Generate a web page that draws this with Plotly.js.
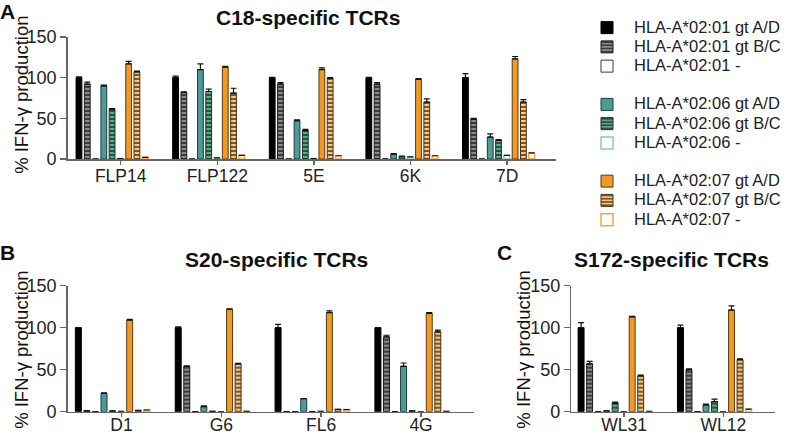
<!DOCTYPE html>
<html><head><meta charset="utf-8">
<script src="https://cdn.plot.ly/plotly-3.0.1.min.js"></script>
<style>html,body{margin:0;padding:0;background:#fff}#chart{width:786px;height:435px}</style>
</head><body><div id="chart"></div>
<script>
// ---------- DATA ----------
const catsA = ['FLP14','FLP122','5E','6K','7D'];
const catsB = ['D1','G6','FL6','4G'];
const catsC = ['WL31','WL12'];

const seriesNames = [
  'HLA-A*02:01 gt A/D','HLA-A*02:01 gt B/C','HLA-A*02:01 -',
  'HLA-A*02:06 gt A/D','HLA-A*02:06 gt B/C','HLA-A*02:06 -',
  'HLA-A*02:07 gt A/D','HLA-A*02:07 gt B/C','HLA-A*02:07 -'
];

// Panel A values (per series, per category)
const a0201AD_A  = [100, 100, 100, 100, 100];
const a0201BC_A  = [92, 82, 92, 92, 49];
const a0201neg_A = [0, 0, 0, 0, 0];
const a0206AD_A  = [90, 110, 47, 6, 27];
const a0206BC_A  = [61, 83, 35, 3, 23];
const a0206neg_A = [0.5, 1.5, 0.5, 2.5, 4.5];
const a0207AD_A  = [117, 113, 110, 98, 123];
const a0207BC_A  = [107, 81, 99, 70, 70];
const a0207neg_A = [2, 4.5, 4, 4, 7.5];
const errA = [
  [1, 2, 0.5, 0.5, 5],
  [2.5, 0.5, 2, 2, 1],
  [0, 0, 0, 0, 0],
  [1, 7, 1, 0.5, 4],
  [1, 3, 1.5, 0.5, 1],
  [0, 0, 0, 0, 0],
  [3, 1, 2, 1, 3],
  [1, 6, 1, 4, 3],
  [0, 0, 0, 0, 0]
];

// Panel B values
const a0201AD_B  = [100, 100, 100, 100];
const a0201BC_B  = [1, 54, 0, 89];
const a0201neg_B = [0, 0, 0, 0];
const a0206AD_B  = [22, 6, 15.5, 54];
const a0206BC_B  = [1, 0.5, 0, 1];
const a0206neg_B = [0.3, 0, 0.5, 0];
const a0207AD_B  = [109, 122, 118, 117];
const a0207BC_B  = [1.5, 57, 2.8, 95];
const a0207neg_B = [2, 0.5, 2.5, 0.5];
const errB = [
  [0, 1, 4, 0],
  [0.3, 0.5, 0, 2],
  [0, 0, 0, 0],
  [0.5, 1, 0, 4],
  [0, 0, 0, 0],
  [0, 0, 0, 0],
  [1, 0.5, 2, 1],
  [0, 0.5, 0, 2],
  [0, 0, 0, 0]
];

// Panel C values
const a0201AD_C  = [100, 100];
const a0201BC_C  = [57, 50];
const a0201neg_C = [0, 0];
const a0206AD_C  = [1, 8];
const a0206BC_C  = [10, 12];
const a0206neg_C = [0, 0];
const a0207AD_C  = [113, 121];
const a0207BC_C  = [42.5, 62];
const a0207neg_C = [0.3, 3];
const errC = [
  [6, 3],
  [3, 1],
  [0, 0],
  [0, 1],
  [1.5, 3],
  [0, 0],
  [0.5, 5],
  [1, 1],
  [0, 0]
];

const valsA = [a0201AD_A,a0201BC_A,a0201neg_A,a0206AD_A,a0206BC_A,a0206neg_A,a0207AD_A,a0207BC_A,a0207neg_A];
const valsB = [a0201AD_B,a0201BC_B,a0201neg_B,a0206AD_B,a0206BC_B,a0206neg_B,a0207AD_B,a0207BC_B,a0207neg_B];
const valsC = [a0201AD_C,a0201BC_C,a0201neg_C,a0206AD_C,a0206BC_C,a0206neg_C,a0207AD_C,a0207BC_C,a0207neg_C];

// ---------- STYLES ----------
const styles = [
  {color:'#000000', line:'#000000', lw:1},
  {color:'#8a8a8a', line:'#1a1a1a', lw:1, pat:{shape:'-', fgcolor:'#262626', bgcolor:'#8a8a8a', size:4, solidity:0.4}},
  {color:'#ffffff', line:'#3a3a3a', lw:1},
  {color:'#4d9b98', line:'#1e3c3a', lw:1},
  {color:'#58a685', line:'#1a3428', lw:1, pat:{shape:'-', fgcolor:'#1c3a2c', bgcolor:'#5aaa88', size:4, solidity:0.4}},
  {color:'#ffffff', line:'#8ec7bf', lw:1.5},
  {color:'#f09a26', line:'#5a3a10', lw:1},
  {color:'#f5c684', line:'#4a3010', lw:1, pat:{shape:'-', fgcolor:'#5a3c14', bgcolor:'#f5c684', size:4, solidity:0.4}},
  {color:'#ffffff', line:'#f0a548', lw:1.5}
];

const pitch = 0.0857, bw = 0.06, firstCenter = -0.432;
const groups = ['g1','g1','g1','g2','g2','g2','g3','g3','g3'];

const traces = [];
function addPanel(cats, vals, errs, xa, ya, showLegend){
  for (let i = 0; i < 9; i++){
    const s = styles[i];
    const marker = {color: s.color, line:{color: s.line, width: s.lw}};
    if (s.pat) marker.pattern = Object.assign({fillmode:'replace'}, s.pat);
    traces.push({
      type:'bar', x: cats, y: vals[i], xaxis: xa, yaxis: ya,
      name: '<span style="font-size:16.5px">' + seriesNames[i] + '</span>',
      legendgroup: groups[i], showlegend: showLegend,
      offset: firstCenter + i*pitch - bw/2, width: bw,
      marker: marker,
      error_y: {type:'data', array: errs[i], arrayminus: errs[i].map(()=>0), symmetric:false,
                color:'#111', thickness:1.2, width:3, visible:true},
      hoverinfo:'skip'
    });
  }
}
addPanel(catsA, valsA, errA, 'x', 'y', true);
addPanel(catsB, valsB, errB, 'x2', 'y2', false);
addPanel(catsC, valsC, errC, 'x3', 'y3', false);

const W = 786, H = 435;
const font = 'Arial, "Liberation Sans", sans-serif';
function xax(dom, range, standoff){
  return {domain: dom, range: range, type:'category', showgrid:false, zeroline:false,
    showline:true, linecolor:'#666', linewidth:1.5, ticks:'outside', ticklen:4, tickcolor:'#666', tickwidth:1.5,
    ticklabelstandoff: standoff,
    tickfont:{size:17.5, color:'#222', family:font}, fixedrange:true};
}
function yax(dom){
  return {domain: dom, range:[0,150], tickvals:[0,50,100,150], showgrid:false, zeroline:false,
    showline:true, linecolor:'#666', linewidth:1.5, ticks:'outside', ticklen:6, tickcolor:'#666', tickwidth:1.5,
    tickfont:{size:18, color:'#222', family:font}, fixedrange:true};
}

const yDomA = [(H-159)/H, (H-37)/H];
const yDomB = [(H-411.7)/H, (H-285.7)/H];

function ann(text, px, py, size, angle){
  return {text: text, x: px/W, y: 1-py/H, xref:'paper', yref:'paper', xanchor:'center', yanchor:'middle',
          showarrow:false, textangle: angle || 0, font:{size:size, family:font, color:'#111'}};
}

const layout = {
  width: W, height: H, margin:{l:0,r:0,t:0,b:0},
  paper_bgcolor:'#fff', plot_bgcolor:'rgba(0,0,0,0)',
  barmode:'overlay', showlegend:true,
  font:{family:font, color:'#222'},
  xaxis: xax([68/W, 560/W], [-0.55, 4.51], -4),
  yaxis: yax(yDomA),
  xaxis2: Object.assign(xax([68/W, 477/W], [-0.54, 3.53], -7), {anchor:'y2'}),
  yaxis2: Object.assign(yax(yDomB), {anchor:'x2'}),
  xaxis3: Object.assign(xax([575/W, 780/W], [-0.53, 1.52], -7), {anchor:'y3'}),
  yaxis3: Object.assign(yax(yDomB), {anchor:'x3'}),
  legend: {x: 584/W, xanchor:'left', y: 1 - 13/H, yanchor:'top', traceorder:'grouped',
    itemwidth: 44, tracegroupgap: 19, font:{size:12.5, family:font, color:'#222'},
    bgcolor:'rgba(0,0,0,0)', itemclick:false, itemdoubleclick:false},
  annotations: [
    ann('<b>C18-specific TCRs</b>', 310, 18, 21),
    ann('<b>S20-specific TCRs</b>', 278, 259, 21),
    ann('<b>S172-specific TCRs</b>', 676, 259, 21),
    ann('<b>A</b>', 8, 11, 21),
    ann('<b>B</b>', 8, 252, 21),
    ann('<b>C</b>', 508, 252, 21),
    ann('% IFN-γ production', 21, 95, 18.5, -90),
    ann('% IFN-γ production', 21, 350, 18.5, -90),
    ann('% IFN-γ production', 526, 350, 18.5, -90)
  ]
};

Plotly.newPlot('chart', traces, layout, {displayModeBar:false, staticPlot:true});
</script></body></html>
